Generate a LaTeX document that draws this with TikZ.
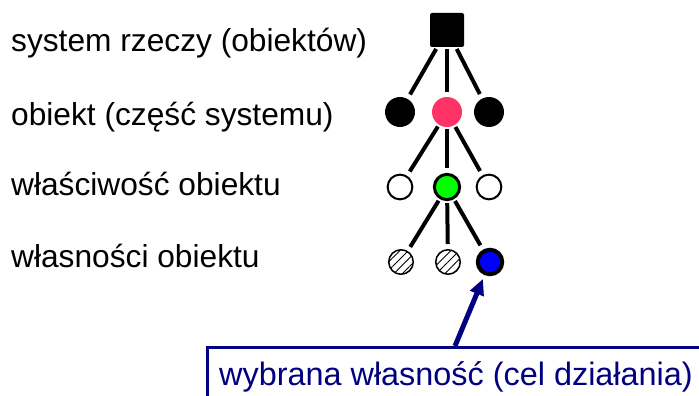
\documentclass[tikz,border=0pt]{standalone}
\usepackage{fontspec}
\setmainfont{Liberation Sans}
\usetikzlibrary{patterns.meta,arrows.meta}
\definecolor{navyc}{RGB}{0,0,128}
\definecolor{pinkc}{RGB}{255,51,102}
\definecolor{greenc}{RGB}{0,255,0}
\definecolor{bluec}{RGB}{0,0,255}
\begin{document}
\begin{tikzpicture}[x=1pt,y=-1pt,
  lab/.style={anchor=base west,inner sep=0pt,font=\fontsize{31.7}{36}\selectfont},
  sq/.style={fill=black,rounded corners=2pt,minimum size=34pt,inner sep=0pt},
  solid/.style={circle,fill=black,minimum size=30pt,inner sep=0pt},
  openc/.style={circle,draw=black,line width=2pt,fill=white,minimum size=24.7pt,inner sep=0pt},
  hatc/.style={circle,draw=black,line width=1.5pt,minimum size=24.5pt,inner sep=0pt,
     pattern={Lines[angle=45,distance=6pt,line width=0.9pt]}},
  edge/.style={line width=4pt,shorten <=2pt,shorten >=5pt},
  boxc/.style={draw=navyc,line width=2.5pt,anchor=north west,minimum width=520pt,minimum height=80pt,inner sep=0pt}
]
\clip (0,0) rectangle (699,396);
\fill[white] (0,0) rectangle (699,396);
% labels
\node[lab] (t1) at (11,52) {system rzeczy (obiektów)};
\node[lab] (t2) at (11,125) {obiekt (część systemu)};
\node[lab] (t3) at (11,195) {właściwość obiektu};
\node[lab] (t4) at (11,267) {własności obiektu};
% tree
\node[sq] (s) at (447,30) {};
\node[solid] (o1) at (400,112) {};
\node[solid,fill=pinkc] (o2) at (447,112) {};
\node[solid] (o3) at (489,112) {};
\node[openc] (p1) at (400,187) {};
\node[openc,fill=greenc,line width=3pt,minimum size=25.3pt] (p2) at (447,187) {};
\node[openc] (p3) at (489,187) {};
\node[hatc] (w1) at (401,262) {};
\node[hatc] (w2) at (448,262) {};
\node[circle,draw=black,fill=bluec,line width=4pt,minimum size=24.5pt,inner sep=0pt] (w3) at (490,262) {};
\draw[edge] (s) -- (o1);
\draw[edge] (s) -- (o2);
\draw[edge] (s) -- (o3);
\draw[edge] (o2) -- (p1);
\draw[edge] (o2) -- (p2);
\draw[edge] (o2) -- (p3);
\draw[edge] (p2) -- (w1);
\draw[edge] (p2) -- (w2);
\draw[edge] (p2) -- (w3);
% callout
\node[boxc] (box) at (206,346) {};
\node[anchor=base west,inner sep=0pt,text=navyc,font=\fontsize{32.4}{38}\selectfont] (bt) at (219,385) {wybrana własność (cel działania)};
\coordinate (as) at (455,346);
\draw[navyc,line width=5pt,-{Triangle[length=16pt,width=14pt]},shorten >=4pt] (as) -- (w3);
\end{tikzpicture}
\end{document}
